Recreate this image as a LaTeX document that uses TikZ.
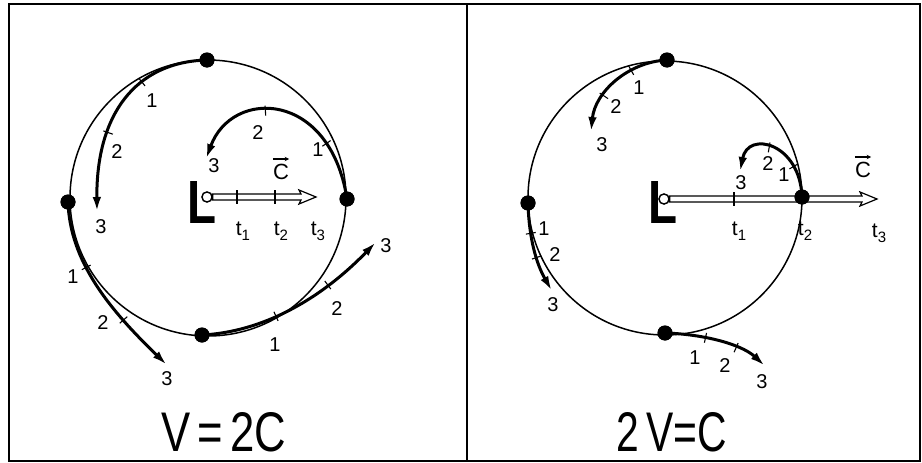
\documentclass[tikz,border=0pt]{standalone}
\usepackage{fontspec}
\setmainfont{Liberation Sans}
\usetikzlibrary{arrows.meta,decorations.markings}
\begin{document}
\begin{tikzpicture}[x=1pt,y=-1pt,
  frame/.style={line width=2pt},
  orbit/.style={line width=1.5pt},
  traj/.style={line width=3pt,-{Latex[length=15pt,width=8.5pt]}},
  dot/.style={circle,fill=black,inner sep=0pt,minimum size=15pt},
  lamp/.style={circle,draw=black,fill=white,line width=1.3pt,inner sep=0pt,minimum size=10pt},
  shaft/.style={line width=1.2pt,fill=white},
  num/.style={font=\fontsize{20}{20}\selectfont,inner sep=0pt},
  tlab/.style={font=\fontsize{21}{21}\selectfont,inner sep=0pt},
  clab/.style={font=\fontsize{22}{22}\selectfont,inner sep=0pt},
  twoticks/.style 2 args={postaction={decorate,decoration={markings,
     mark=at position #1 with {\draw[line width=1.1pt,arrows=-] (0,-5pt)--(0,5pt);},
     mark=at position #2 with {\draw[line width=1.1pt,arrows=-] (0,-5pt)--(0,5pt);}}}}
]
\useasboundingbox (0,0) rectangle (922,463);
% frame
\draw[frame] (9,4) rectangle (920,461);
\draw[frame] (467,4) -- (467,461);

% ================= LEFT PANEL =================
\draw[orbit] (208,198) circle[radius=138];
% lamp arrow
\node[lamp] (lampL) at (207,197) {};
\coordinate (tipL) at (316,197);
\draw[shaft] ([yshift=3pt]lampL.east) -- ([xshift=-15pt,yshift=3pt]tipL) -- ([xshift=-17pt,yshift=7pt]tipL) -- (tipL)
   -- ([xshift=-17pt,yshift=-7pt]tipL) -- ([xshift=-15pt,yshift=-3pt]tipL) -- ([yshift=-3pt]lampL.east) -- cycle;
\node[lamp] at (lampL) {};
\draw[line width=1.3pt] (237,190) -- (237,204);
\draw[line width=1.3pt] (275,190) -- (275,204);
\node[inner sep=0pt] (bigLL) at (202.5,202) {\resizebox{29pt}{42pt}{\bfseries L}};
\node[tlab] (t1L) at (243,231) {t\raisebox{-5pt}{\fontsize{15}{15}\selectfont 1}};
\node[tlab] (t2L) at (281,231) {t\raisebox{-5pt}{\fontsize{15}{15}\selectfont 2}};
\node[tlab] (t3L) at (318,231) {t\raisebox{-5pt}{\fontsize{15}{15}\selectfont 3}};
\node[clab] (cL) at (281,172) {C};
\draw[line width=1.1pt,-{Stealth[length=4.5pt,width=4.5pt]}] ([yshift=5pt]cL.north west) -- ([yshift=5pt]cL.north east);

% dots
\node[dot] (dTL) at (207,60) {};
\node[dot] (dBL) at (202,335) {};
\node[dot] (dLL) at (68,202) {};
\node[dot] (dRL) at (347,199) {};

\coordinate (eA1) at (97,212);
\coordinate (eA2) at (206,159);
\coordinate (eA3) at (167,365);
\coordinate (eA4) at (376,242);
\draw[traj,twoticks={0.33}{0.62}] (dTL.center) .. controls (135,62) and (96,115) .. (eA1);
\draw[traj,twoticks={0.28}{0.62}] (dRL.center) .. controls (330,90) and (232,88) .. (eA2);
\draw[traj,twoticks={0.35}{0.68}] (dLL.center) .. controls (70,262) and (110,310) .. (eA3);
\draw[traj,twoticks={0.38}{0.68}] (dBL.center) .. controls (262,332) and (320,300) .. (eA4);
\node[dot] at (dTL) {};
\node[dot] at (dBL) {};
\node[dot] at (dLL) {};
\node[dot] at (dRL) {};

\node[num] (a11) at (152,101) {1};
\node[num] (a12) at (117,152) {2};
\node[num] (a13) at (101,227) {3};
\node[num] (a21) at (318,150) {1};
\node[num] (a22) at (258,133) {2};
\node[num] (a23) at (214,166) {3};
\node[num] (a31) at (73,277) {1};
\node[num] (a32) at (103,323) {2};
\node[num] (a33) at (167,379) {3};
\node[num] (a41) at (275,345) {1};
\node[num] (a42) at (337,309) {2};
\node[num] (a43) at (386,246) {3};

\node[inner sep=0pt] (eqL) at (224,432.5) {\resizebox{125pt}{39pt}{V\,=\,2C}};

% ================= RIGHT PANEL =================
\draw[orbit] (665,198) circle[radius=137];
\node[lamp] (lampR) at (664,199) {};
\coordinate (tipR) at (877,199);
\draw[shaft] ([yshift=3pt]lampR.east) -- ([xshift=-15pt,yshift=3pt]tipR) -- ([xshift=-17pt,yshift=7pt]tipR) -- (tipR)
   -- ([xshift=-17pt,yshift=-7pt]tipR) -- ([xshift=-15pt,yshift=-3pt]tipR) -- ([yshift=-3pt]lampR.east) -- cycle;
\node[lamp] at (lampR) {};
\draw[line width=1.3pt] (734,192) -- (734,206);
\node[inner sep=0pt] (bigLR) at (662.5,202) {\resizebox{29pt}{42pt}{\bfseries L}};
\node[tlab] (t1R) at (739,231) {t\raisebox{-5pt}{\fontsize{15}{15}\selectfont 1}};
\node[tlab] (t2R) at (805,231) {t\raisebox{-5pt}{\fontsize{15}{15}\selectfont 2}};
\node[tlab] (t3R) at (879,233) {t\raisebox{-5pt}{\fontsize{15}{15}\selectfont 3}};
\node[clab] (cR) at (863,170) {C};
\draw[line width=1.1pt,-{Stealth[length=4.5pt,width=4.5pt]}] ([yshift=5pt]cR.north west) -- ([yshift=5pt]cR.north east);

\node[dot] (dTR) at (667,60) {};
\node[dot] (dBR) at (665,333) {};
\node[dot] (dLR) at (528,203) {};
\node[dot] (dRR) at (802,197) {};

\coordinate (eB1) at (591,132);
\coordinate (eB2) at (740,172);
\coordinate (eB3) at (552,291);
\coordinate (eB4) at (765,366);
\draw[traj,twoticks={0.33}{0.66}] (dTR.center) .. controls (628,62) and (595,92) .. (eB1);
\draw[traj,twoticks={0.3}{0.6}] (dRR.center) .. controls (800,143) and (748,130) .. (eB2);
\draw[traj,twoticks={0.33}{0.6}] (dLR.center) .. controls (529,240) and (537,265) .. (eB3);
\draw[traj,twoticks={0.38}{0.68}] (dBR.center) .. controls (700,334) and (740,343) .. (eB4);
\node[dot] at (dTR) {};
\node[dot] at (dBR) {};
\node[dot] at (dLR) {};
\node[dot] at (dRR) {};

\node[num] (b11) at (639,88) {1};
\node[num] (b12) at (616,107) {2};
\node[num] (b13) at (602,145) {3};
\node[num] (b21) at (784,175) {1};
\node[num] (b22) at (768,164) {2};
\node[num] (b23) at (741,183) {3};
\node[num] (b31) at (544,229) {1};
\node[num] (b32) at (555,255) {2};
\node[num] (b33) at (553,305) {3};
\node[num] (b41) at (695,358) {1};
\node[num] (b42) at (725,366) {2};
\node[num] (b43) at (762,382) {3};

\node[inner sep=0pt] (eqR) at (672,432.5) {\resizebox{110pt}{39pt}{2\,V=C}};
\end{tikzpicture}
\end{document}
